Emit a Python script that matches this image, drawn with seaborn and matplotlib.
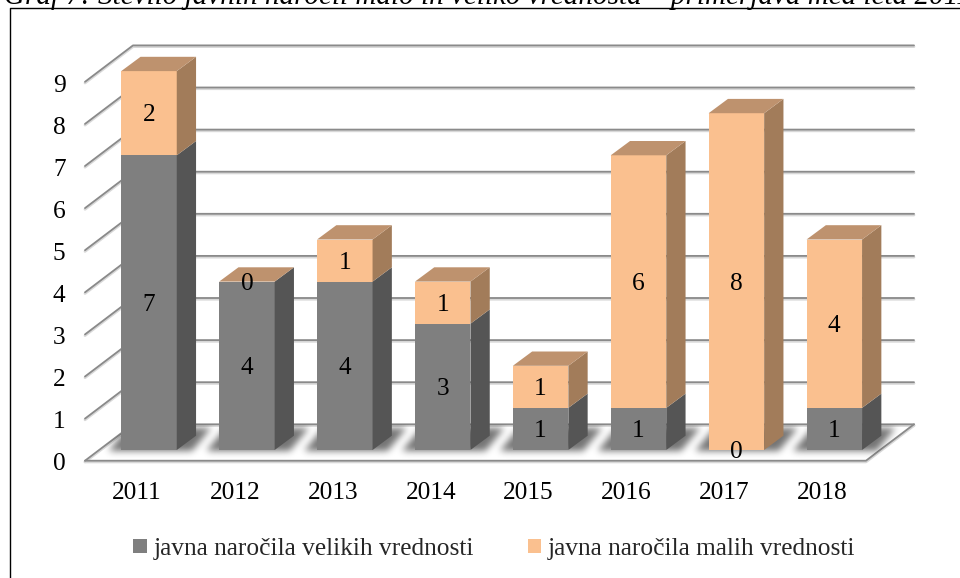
import matplotlib
matplotlib.use('Agg')
import matplotlib.pyplot as plt
from matplotlib.lines import Line2D
from matplotlib.patches import Polygon
from matplotlib.path import Path
from matplotlib.transforms import ScaledTranslation
import numpy as np
import seaborn as sns

years = ['2011', '2012', '2013', '2014', '2015', '2016', '2017', '2018']
large_orders = [7, 4, 4, 3, 1, 1, 0, 1]
small_orders = [2, 0, 1, 1, 1, 6, 8, 4]
y_ticks = [0, 1, 2, 3, 4, 5, 6, 7, 8, 9]
large_label = 'javna naročila velikih vrednosti'
small_label = 'javna naročila malih vrednosti'
title = 'Graf 7: Število javnih naročil malo in veliko vrednosta – primerjava med leta 2011'

GRAY, GRAY_SIDE = '#7F7F7F', '#555555'
ORANGE, ORANGE_SIDE, ORANGE_TOP = '#FAC08F', '#A27C5A', '#BE926E'
FONT = 'Liberation Serif'
FS = 18.3

# px per unit and depth of the fake 3d
PX_X, PX_Y = 97.9, 42.1
BAR_DX, BAR_DY = 19.3 / PX_X, 14.3 / PX_Y
WALL_DX, WALL_UP, FRONT_DOWN = 48 / PX_X, 25.7 / PX_Y, 10.7 / PX_Y

sns.set_theme(style='white')
plt.rcParams['font.family'] = [FONT, 'DejaVu Serif']

fig = plt.figure(figsize=(9.6, 5.78), dpi=100)
ax = fig.add_axes([85 / 960, (578 - 460.7) / 578, (914 - 85) / 960, (460.7 - 45) / 578])

sns.barplot(x=years, y=large_orders, color=GRAY, saturation=1, width=0.567,
            label=large_label, linewidth=0, zorder=3, ax=ax)
sns.barplot(x=years, y=small_orders, bottom=large_orders, color=ORANGE, saturation=1, width=0.567,
            label=small_label, linewidth=0, zorder=3, ax=ax)

x_left = (85 - 149) / PX_X
x_right = (914 - 149) / PX_X
y_low, y_high = -FRONT_DOWN, (450 - 45) / PX_Y
sns.despine(ax=ax, left=True, bottom=True)


def grid_line(xs, ys):
    ax.plot(xs, [y - 1.2 / PX_Y for y in ys], color='#D8D8D8', lw=2.0, zorder=1,
            clip_on=False, solid_capstyle='round')
    ax.plot(xs, ys, color='#8A8A8A', lw=1.3, zorder=1.2, clip_on=False, solid_capstyle='round')


# walls and floor
for v in y_ticks:
    grid_line([x_left, x_left + WALL_DX, x_right], [v - FRONT_DOWN, v + WALL_UP, v + WALL_UP])
grid_line([x_left, x_right - WALL_DX, x_right], [-FRONT_DOWN, -FRONT_DOWN, WALL_UP])

floor = Polygon([(x_left, -FRONT_DOWN), (x_right - WALL_DX, -FRONT_DOWN),
                 (x_right, WALL_UP), (x_left + WALL_DX, WALL_UP)], closed=True,
                facecolor='none', edgecolor='none')
ax.add_patch(floor)

# soft shadow under the bars, blurred on a 1px grid
grid_x = np.linspace(x_left, x_right, 829)
grid_y = np.linspace(y_low, y_high, 416)
xx, yy = np.meshgrid(grid_x, grid_y)
points = np.column_stack([xx.ravel(), yy.ravel()])
mask = np.zeros(xx.shape)
for bar_g in ax.containers[0]:
    x0, x1 = bar_g.get_x(), bar_g.get_x() + bar_g.get_width()
    foot = Path([(x0 - 13 / PX_X, -1 / PX_Y), (x1 + 15 / PX_X, -1 / PX_Y),
                 (x1 + BAR_DX + 15 / PX_X, BAR_DY + 8 / PX_Y), (x0 + BAR_DX - 13 / PX_X, BAR_DY + 8 / PX_Y)])
    mask[foot.contains_points(points).reshape(xx.shape)] = 1
kernel = np.exp(-0.5 * (np.arange(-12, 13) / 3.5) ** 2)
kernel = kernel / kernel.sum()
mask = np.apply_along_axis(lambda r: np.convolve(r, kernel, mode='same'), 1, mask)
mask = np.apply_along_axis(lambda c: np.convolve(c, kernel, mode='same'), 0, mask)
rgba = np.zeros(mask.shape + (4,))
rgba[..., 3] = mask * 0.55
shadow = ax.imshow(rgba, extent=(x_left, x_right, y_low, y_high), origin='lower',
                   aspect='auto', zorder=1.5, interpolation='bilinear')
shadow.set_clip_path(floor)

ax.set_xlim(x_left, x_right)
ax.set_ylim(y_low, y_high)

for bar_g, bar_o in zip(ax.containers[0], ax.containers[1]):
    x0, x1 = bar_g.get_x(), bar_g.get_x() + bar_g.get_width()
    # side faces, top face
    for bar, col in [(bar_g, GRAY_SIDE), (bar_o, ORANGE_SIDE)]:
        y0, y1 = bar.get_y(), bar.get_y() + bar.get_height()
        ax.add_patch(Polygon([(x1, y0), (x1 + BAR_DX, y0 + BAR_DY),
                              (x1 + BAR_DX, y1 + BAR_DY), (x1, y1)],
                             closed=True, facecolor=col, edgecolor='none', zorder=3, clip_on=False))
    top = bar_o.get_y() + bar_o.get_height()
    ax.add_patch(Polygon([(x0, top), (x1, top), (x1 + BAR_DX, top + BAR_DY), (x0 + BAR_DX, top + BAR_DY)],
                         closed=True, facecolor=ORANGE_TOP, edgecolor='none', zorder=3, clip_on=False))

for cont in ax.containers:
    for t in ax.bar_label(cont, label_type='center', fontsize=FS, color='black', family=FONT):
        t.set_zorder(6)
        t.xyann = (0, -1.5)

ax.set_yticks(y_ticks)
ax.tick_params(axis='both', length=0, labelsize=FS, colors='black')
ax.tick_params(axis='y', pad=14)
ax.tick_params(axis='x', pad=15)
y_shift = ScaledTranslation(0, -12 / 100, fig.dpi_scale_trans)
x_shift = ScaledTranslation(-12 / 100, 0, fig.dpi_scale_trans)
for lab in ax.get_yticklabels():
    lab.set_transform(lab.get_transform() + y_shift)
for lab in ax.get_xticklabels():
    lab.set_transform(lab.get_transform() + x_shift)

ax.legend(loc='center', bbox_to_anchor=(494.5 / 960, 1 - 549 / 578), bbox_transform=fig.transFigure,
          ncol=2, frameon=False, fontsize=FS, handlelength=0.52, handleheight=0.52,
          handletextpad=0.28, columnspacing=2.1, borderpad=0)

# frame of the pasted picture and the cut off caption above it
fig.add_artist(Line2D([9.5 / 960, 9.5 / 960, 1], [0, 1 - 8 / 578, 1 - 8 / 578], color='black', lw=1))
fig.text(4 / 960, 1 - 3.5 / 578, title, fontsize=21, style='italic', color='black', va='baseline')

fig.savefig('out.png', dpi=100)
